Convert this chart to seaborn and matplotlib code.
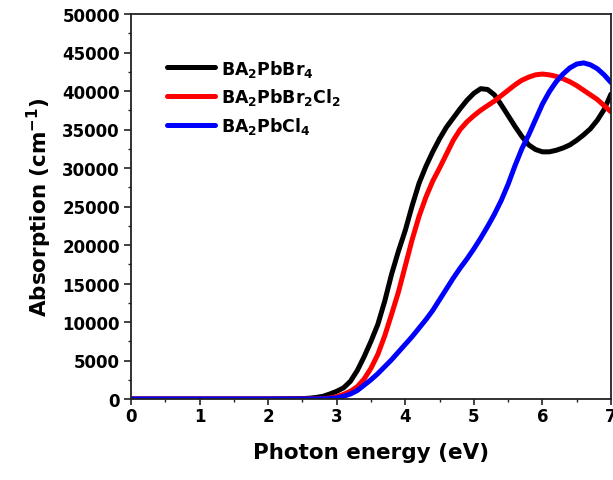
import matplotlib
matplotlib.use("Agg")
import matplotlib.pyplot as plt
import numpy as np
import pandas as pd
import seaborn as sns

# Photon energy grid (eV)
energy = [0.0, 1.0, 2.0, 2.5, 2.6, 2.7, 2.8, 2.9, 3.0, 3.1, 3.2, 3.3, 3.4, 3.5,
          3.6, 3.7, 3.8, 3.9, 4.0, 4.1, 4.2, 4.3, 4.4, 4.5, 4.6, 4.7, 4.8, 4.9,
          5.0, 5.1, 5.2, 5.3, 5.4, 5.5, 5.6, 5.7, 5.8, 5.9, 6.0, 6.1, 6.2, 6.3,
          6.4, 6.5, 6.6, 6.7, 6.8, 6.9, 7.0]

# Absorption coefficient (cm^-1)
abs_br4 = [0, 0, 0, 50, 100, 200, 350, 650, 1000, 1450, 2300, 3700, 5500, 7500,
           9700, 12700, 16200, 19200, 21900, 25100, 28000, 30200, 32100, 33800,
           35300, 36500, 37700, 38800, 39700, 40300, 40200, 39500, 38200, 36800,
           35400, 34100, 33000, 32400, 32100, 32100, 32300, 32600, 33000, 33600,
           34300, 35100, 36200, 37600, 39600]

abs_br2cl2 = [0, 0, 0, 0, 0, 20, 50, 120, 300, 600, 1000, 1600, 2600, 4000,
              5800, 8200, 11000, 13900, 17300, 20700, 23700, 26200, 28300, 30000,
              31800, 33600, 35000, 36000, 36800, 37500, 38100, 38700, 39400,
              40100, 40800, 41400, 41800, 42100, 42200, 42100, 41900, 41600,
              41200, 40700, 40100, 39500, 38900, 38100, 37300]

abs_cl4 = [0, 0, 0, 0, 0, 0, 20, 50, 150, 350, 650, 1100, 1800, 2500,
           3300, 4200, 5100, 6100, 7100, 8100, 9200, 10300, 11500, 12900,
           14300, 15700, 17000, 18200, 19500, 20900, 22400, 24000, 25800,
           27900, 30300, 32500, 34300, 36300, 38300, 39900, 41200, 42200,
           43000, 43500, 43650, 43400, 42900, 42100, 41100]

labels = ["BA$_\\mathbf{2}$PbBr$_\\mathbf{4}$",
          "BA$_\\mathbf{2}$PbBr$_\\mathbf{2}$Cl$_\\mathbf{2}$",
          "BA$_\\mathbf{2}$PbCl$_\\mathbf{4}$"]
colors = ["#000000", "#ff0000", "#0000ff"]

df = pd.concat([
    pd.DataFrame({"energy": energy, "absorption": vals, "sample": lab})
    for vals, lab in zip([abs_br4, abs_br2cl2, abs_cl4], labels)
], ignore_index=True)

sns.set_style("ticks")
plt.rcParams["font.family"] = ["DejaVu Sans"]
plt.rcParams["font.weight"] = "bold"
plt.rcParams["mathtext.fontset"] = "dejavusans"
for key in ["text.color", "axes.labelcolor", "xtick.color", "ytick.color",
            "xtick.labelcolor", "ytick.labelcolor"]:
    plt.rcParams[key] = "black"

fig = plt.figure(figsize=(6.13, 4.81), dpi=100)
ax = fig.add_axes([131 / 613, 1 - 400 / 481, 480 / 613, 385 / 481])

sns.lineplot(data=df, x="energy", y="absorption", hue="sample",
             palette=dict(zip(labels, colors)), linewidth=3.6, ax=ax,
             legend=False, sort=False)

ax.set_xlim(0, 7)
ax.set_ylim(0, 50000)
ax.set_xticks(np.arange(0, 8, 1))
ax.set_yticks(np.arange(0, 50001, 5000))
ax.set_xticks(np.arange(0.5, 7, 1), minor=True)
ax.set_yticks(np.arange(2500, 50000, 5000), minor=True)

ax.tick_params(axis="both", which="major", labelsize=12, width=1.2,
               color="#222222", labelcolor="black")
ax.tick_params(axis="y", which="major", length=5, pad=3)
ax.tick_params(axis="x", which="major", length=4, pad=2)
ax.tick_params(axis="both", which="minor", length=2.5, width=1.0,
               color="#222222")
for lab in ax.get_xticklabels() + ax.get_yticklabels():
    lab.set_fontweight("bold")

for side in ["left", "right", "top", "bottom"]:
    ax.spines[side].set_visible(True)
    ax.spines[side].set_linewidth(1.3)
    ax.spines[side].set_color("#222222")

ax.set_xlabel("Photon energy (eV)", fontsize=15.5, fontweight="bold",
              labelpad=12, color="black")
ax.set_ylabel("Absorption (cm$^{\\mathbf{-1}}$)", fontsize=15.5,
              fontweight="bold", labelpad=6, color="black")

handles = [plt.Line2D([], [], color=c, linewidth=3.6) for c in colors]
leg = ax.legend(handles, labels, loc="upper left",
                bbox_to_anchor=(0.06, 0.905), frameon=False,
                prop={"size": 12.5, "weight": "bold"},
                handlelength=2.8, handletextpad=0.3, labelspacing=0.45,
                borderaxespad=0)
for t in leg.get_texts():
    t.set_color("black")

fig.savefig("out.png", dpi=100)
